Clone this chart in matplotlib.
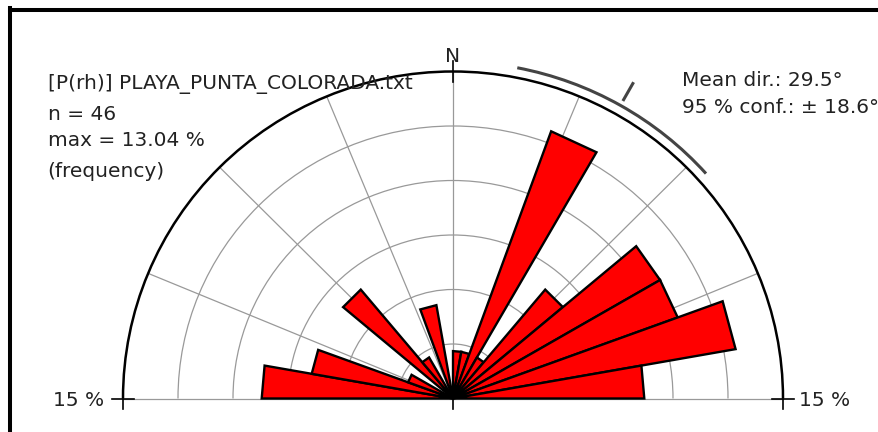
import numpy as np
import matplotlib
matplotlib.use("Agg")
import matplotlib.pyplot as plt
from matplotlib.patches import Polygon, Arc
from matplotlib.lines import Line2D

# data: half rose (W -> N -> E), 10 degree bins, counts per bin
bin_start = [-90, -80, -70, -60, -50, -40, -30, -20, -10,
             0, 10, 20, 30, 40, 50, 60, 70, 80]
counts = [4, 3, 1, 0, 3, 1, 0, 2, 0,
          1, 1, 6, 1, 3, 5, 5, 6, 4]
bin_width = 10
n_total = 46
mean_dir = 29.5
conf95 = 18.6
r_max = 15.0
rings = [2.5, 5.0, 7.5, 10.0, 12.5]
spokes = [-67.5, -45, -22.5, 0, 22.5, 45, 67.5]
file_label = "[P(rh)] PLAYA_PUNTA_COLORADA.txt"

pct = np.array(counts) / n_total * 100

W, H = 879, 432
fig = plt.figure(figsize=(W / 100, H / 100), dpi=100)
ax = fig.add_axes([0, 0, 1, 1])
ax.set_axis_off()

# pixel layout -> data limits (1 % = ~22 px)
cx, cy = 453, 398.5
sx, sy = 22.0, 21.8
ax.set_xlim(-cx / sx, (W - cx) / sx)
ax.set_ylim(-(H - cy) / sy, cy / sy)


def compass_xy(theta, r):
    t = np.radians(theta)
    return r * np.sin(t), r * np.cos(t)


# grid
grid_kw = dict(color="#999999", lw=0.9, zorder=1)
for r in rings:
    ax.add_patch(Arc((0, 0), 2 * r, 2 * r, theta1=0, theta2=180, **grid_kw))
for a in spokes:
    x, y = compass_xy(a, r_max)
    ax.plot([0, x], [0, y], **grid_kw)
ax.plot([-r_max, r_max], [0, 0], **grid_kw)

# bars (petals are triangles with a straight outer edge)
for start, p in zip(bin_start, pct):
    if p <= 0:
        continue
    pts = [(0, 0), compass_xy(start, p), compass_xy(start + bin_width, p)]
    ax.add_patch(Polygon(pts, closed=True, facecolor="#ff0000",
                         edgecolor="black", lw=1.7, joinstyle="miter", zorder=3))

# outer circle and ticks
ax.add_patch(Arc((0, 0), 2 * r_max, 2 * r_max, theta1=0, theta2=180,
                 color="black", lw=1.8, zorder=4))
tk = dict(color="black", lw=1.2, zorder=4)
ax.plot([-r_max - 0.5, -r_max + 0.5], [0, 0], **tk)
ax.plot([r_max - 0.5, r_max + 0.5], [0, 0], **tk)
ax.plot([0, 0], [r_max - 0.5, r_max + 0.5], **tk)
for x in (-r_max, 0, r_max):
    ax.plot([x, x], [0, -0.5], **tk)

# mean direction and 95 % confidence arc
r_ci = 15.45
ax.add_patch(Arc((0, 0), 2 * r_ci, 2 * r_ci,
                 theta1=90 - (mean_dir + conf95), theta2=90 - (mean_dir - conf95),
                 color="#444444", lw=2.2, zorder=4))
x0, y0 = compass_xy(mean_dir, 15.75)
x1, y1 = compass_xy(mean_dir, 16.6)
ax.plot([x0, x1], [y0, y1], color="#444444", lw=2.2, zorder=4)

# texts
txt = dict(fontsize=14.5, color="#222222")


def ftext(px, py, s, **kw):
    fig.text(px / W, 1 - py / H, s, **txt, **kw)


ftext(453, 61.5, "N", ha="center", va="baseline")
ftext(48, 89, file_label, va="baseline")
ftext(48, 119.5, f"n = {n_total}", va="baseline")
ftext(48, 146, f"max = {pct.max():.2f} %", va="baseline")
ftext(47, 176.5, "(frequency)", va="baseline")
ftext(682, 86.5, f"Mean dir.: {mean_dir}°", va="baseline")
ftext(682, 112.5, f"95 % conf.: ± {conf95}°", va="baseline")
ftext(104, 405.5, f"{r_max:.0f} %", ha="right", va="baseline")
ftext(799, 405.5, f"{r_max:.0f} %", ha="left", va="baseline")

# frame (cropped: only top and left sides visible)
fig.add_artist(Line2D([10 / W, 1.0], [1 - 10 / H, 1 - 10 / H],
                      transform=fig.transFigure, color="black", lw=2.9))
fig.add_artist(Line2D([10 / W, 10 / W], [0.0, 1 - 8 / H],
                      transform=fig.transFigure, color="black", lw=2.9))

fig.savefig("out.png", dpi=100)
